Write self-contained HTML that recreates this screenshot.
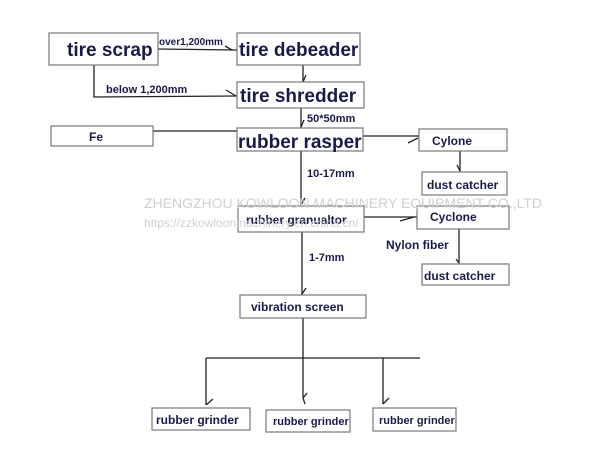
<!DOCTYPE html>
<html><head><meta charset="utf-8"><style>
html,body{margin:0;padding:0;background:#fff;}
svg{display:block;font-family:"Liberation Sans",sans-serif;font-weight:bold;fill:#1a1a4a;}
rect{fill:#fff;stroke:#777;stroke-width:1.2}
line,polyline{stroke:#222;stroke-width:1.3;fill:none}
</style></head><body>
<svg width="600" height="460" viewBox="0 0 600 460">
<g>
<line x1="158" y1="49" x2="237" y2="50"/><line x1="232" y1="50" x2="225" y2="46"/>
<polyline points="94,65 94,97 237,96"/><line x1="236" y1="96" x2="226" y2="90"/>
<line x1="303" y1="65" x2="303" y2="82"/><line x1="303" y1="82" x2="306" y2="75"/>
<line x1="301" y1="108" x2="301" y2="128"/><line x1="301" y1="127" x2="304" y2="120"/>
<line x1="153" y1="131" x2="237" y2="131"/>
<line x1="363" y1="136" x2="419" y2="136"/><line x1="408" y1="143" x2="418" y2="138"/>
<line x1="460" y1="151" x2="460" y2="172"/><line x1="460" y1="171" x2="457" y2="165"/>
<line x1="301" y1="151" x2="301" y2="206"/><line x1="301" y1="205" x2="305" y2="198"/>
<line x1="364" y1="217" x2="417" y2="217"/><line x1="400" y1="221" x2="414" y2="217"/>
<line x1="459" y1="229" x2="459" y2="264"/><line x1="459" y1="263" x2="456" y2="259"/>
<line x1="302" y1="232" x2="302" y2="295"/><line x1="302" y1="294" x2="306" y2="288"/>
<line x1="303" y1="318" x2="303" y2="358"/>
<line x1="206" y1="358" x2="420" y2="358"/>
<line x1="206" y1="358" x2="206" y2="405"/><line x1="206" y1="405" x2="213" y2="399"/>
<line x1="303" y1="358" x2="303" y2="398"/><line x1="303" y1="398" x2="307" y2="393"/><line x1="303" y1="398" x2="305" y2="404"/>
<line x1="383" y1="358" x2="383" y2="404"/><line x1="383" y1="404" x2="389" y2="398"/>
</g>
<rect x="49" y="33" width="109" height="32"/>
<rect x="237" y="33" width="123" height="32"/>
<rect x="237" y="82" width="127" height="26"/>
<rect x="51" y="126" width="102" height="20"/>
<rect x="237" y="128" width="126" height="23"/>
<rect x="419" y="129" width="88" height="22"/>
<rect x="422" y="172" width="85" height="23"/>
<rect x="238" y="206" width="126" height="26"/>
<rect x="417" y="206" width="92" height="23"/>
<rect x="422" y="264" width="87" height="21"/>
<rect x="240" y="295" width="126" height="23"/>
<rect x="152" y="408" width="98" height="22"/>
<rect x="266" y="410" width="84" height="22"/>
<rect x="373" y="408" width="83" height="23"/>
<text x="67" y="56" font-size="19">tire scrap</text>
<text x="239" y="56" font-size="19">tire debeader</text>
<text x="240" y="102" font-size="19">tire shredder</text>
<text x="238" y="148" font-size="19">rubber rasper</text>
<text x="89" y="141" font-size="12">Fe</text>
<text x="432" y="145" font-size="12">Cylone</text>
<text x="427" y="189" font-size="12">dust catcher</text>
<text x="246" y="224" font-size="12">rubber granualtor</text>
<text x="430" y="221" font-size="12">Cyclone</text>
<text x="424" y="280" font-size="12">dust catcher</text>
<text x="251" y="311" font-size="12">vibration screen</text>
<text x="156" y="424" font-size="12">rubber grinder</text>
<text x="273" y="425" font-size="11">rubber grinder</text>
<text x="379" y="424" font-size="11">rubber grinder</text>
<text x="159" y="45" font-size="10">over1,200mm</text>
<text x="106" y="93" font-size="11">below 1,200mm</text>
<text x="307" y="122" font-size="11">50*50mm</text>
<text x="307" y="177" font-size="11">10-17mm</text>
<text x="386" y="249" font-size="12">Nylon fiber</text>
<text x="309" y="261" font-size="11">1-7mm</text>
<text x="144" y="208" font-size="14" font-weight="normal" fill="#c8c8c8" style="fill:#d0d0d0">ZHENGZHOU KOWLOON MACHINERY EQUIPMENT CO.,LTD</text>
<text x="144" y="227" font-size="12" font-weight="normal" style="fill:#d0d0d0">https://zzkowloonmachinery.en.china.cn/</text>
</svg>
</body></html>
